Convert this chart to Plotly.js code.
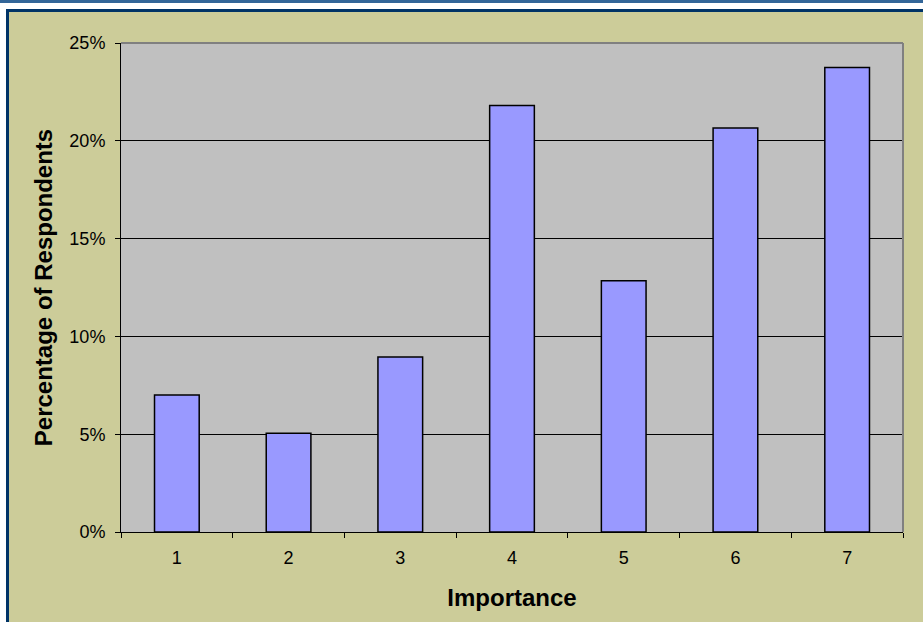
<!DOCTYPE html>
<html><head><meta charset="utf-8">
<script src="https://cdn.plot.ly/plotly-3.0.1.min.js"></script>
<style>
html,body{margin:0;padding:0;background:#fff;}
#wrap{position:relative;width:923px;height:622px;overflow:hidden;}
#chart{position:absolute;left:0;top:0;width:923px;height:622px;}
.deco{position:absolute;pointer-events:none;}
</style></head>
<body>
<div id="wrap">
<div id="chart"></div>
<div class="deco" style="left:0;top:0;width:923px;height:9px;background:#fff;"></div>
<div class="deco" style="left:0;top:0;width:923px;height:3px;background:#336699;"></div>
<div class="deco" style="left:0;top:0;width:6px;height:622px;background:#fff;top:9px;"></div>
<div class="deco" style="left:6px;top:9px;width:917px;height:3px;background:#003366;"></div>
<div class="deco" style="left:6px;top:9px;width:3px;height:613px;background:#003366;"></div>
</div>
<script>
var categories = ['1','2','3','4','5','6','7'];
var percentages = [7.0, 5.05, 8.95, 21.8, 12.85, 20.65, 23.75];
var yTickValues = [0, 5, 10, 15, 20, 25];
var yTickLabels = ['0%', '5%', '10%', '15%', '20%', '25%'];

var trace = {
  type: 'bar',
  x: categories,
  y: percentages,
  marker: {color: '#9999FF', line: {color: '#000000', width: 1.5}},
  hoverinfo: 'none'
};

var layout = {
  width: 923, height: 622,
  margin: {l: 121, r: 20, t: 43, b: 90},
  paper_bgcolor: '#CCCC99',
  plot_bgcolor: '#C0C0C0',
  bargap: 0.6,
  showlegend: false,
  font: {family: 'Liberation Sans, Arial, sans-serif', color: '#000'},
  xaxis: {
    type: 'category',
    tickson: 'boundaries',
    ticks: 'outside', ticklen: 5, tickcolor: '#000', tickwidth: 1,
    showline: true, linecolor: '#000', linewidth: 1,
    showgrid: false,
    tickfont: {size: 18},
    ticklabelstandoff: 9,
    title: {text: '<b>Importance</b>', font: {size: 24}, standoff: 22}
  },
  yaxis: {
    range: [0, 25],
    tickvals: yTickValues, ticktext: yTickLabels,
    ticks: 'outside', ticklen: 5, tickcolor: '#000', tickwidth: 1,
    showline: true, linecolor: '#000', linewidth: 1,
    showgrid: true, gridcolor: '#000', gridwidth: 1,
    zeroline: false,
    tickfont: {size: 18},
    ticklabelstandoff: 6,
    title: {text: '<b>Percentage of Respondents</b>', font: {size: 24}, standoff: 9}
  },
  shapes: [
    {type: 'line', xref: 'paper', yref: 'paper', x0: 0, x1: 1, y0: 1, y1: 1, line: {color: '#808080', width: 2}, layer: 'above'},
    {type: 'line', xref: 'paper', yref: 'paper', x0: 1, x1: 1, y0: 0, y1: 1, line: {color: '#808080', width: 2}, layer: 'above'}
  ]
};

Plotly.newPlot('chart', [trace], layout, {displayModeBar: false, staticPlot: true});
</script>
</body></html>
